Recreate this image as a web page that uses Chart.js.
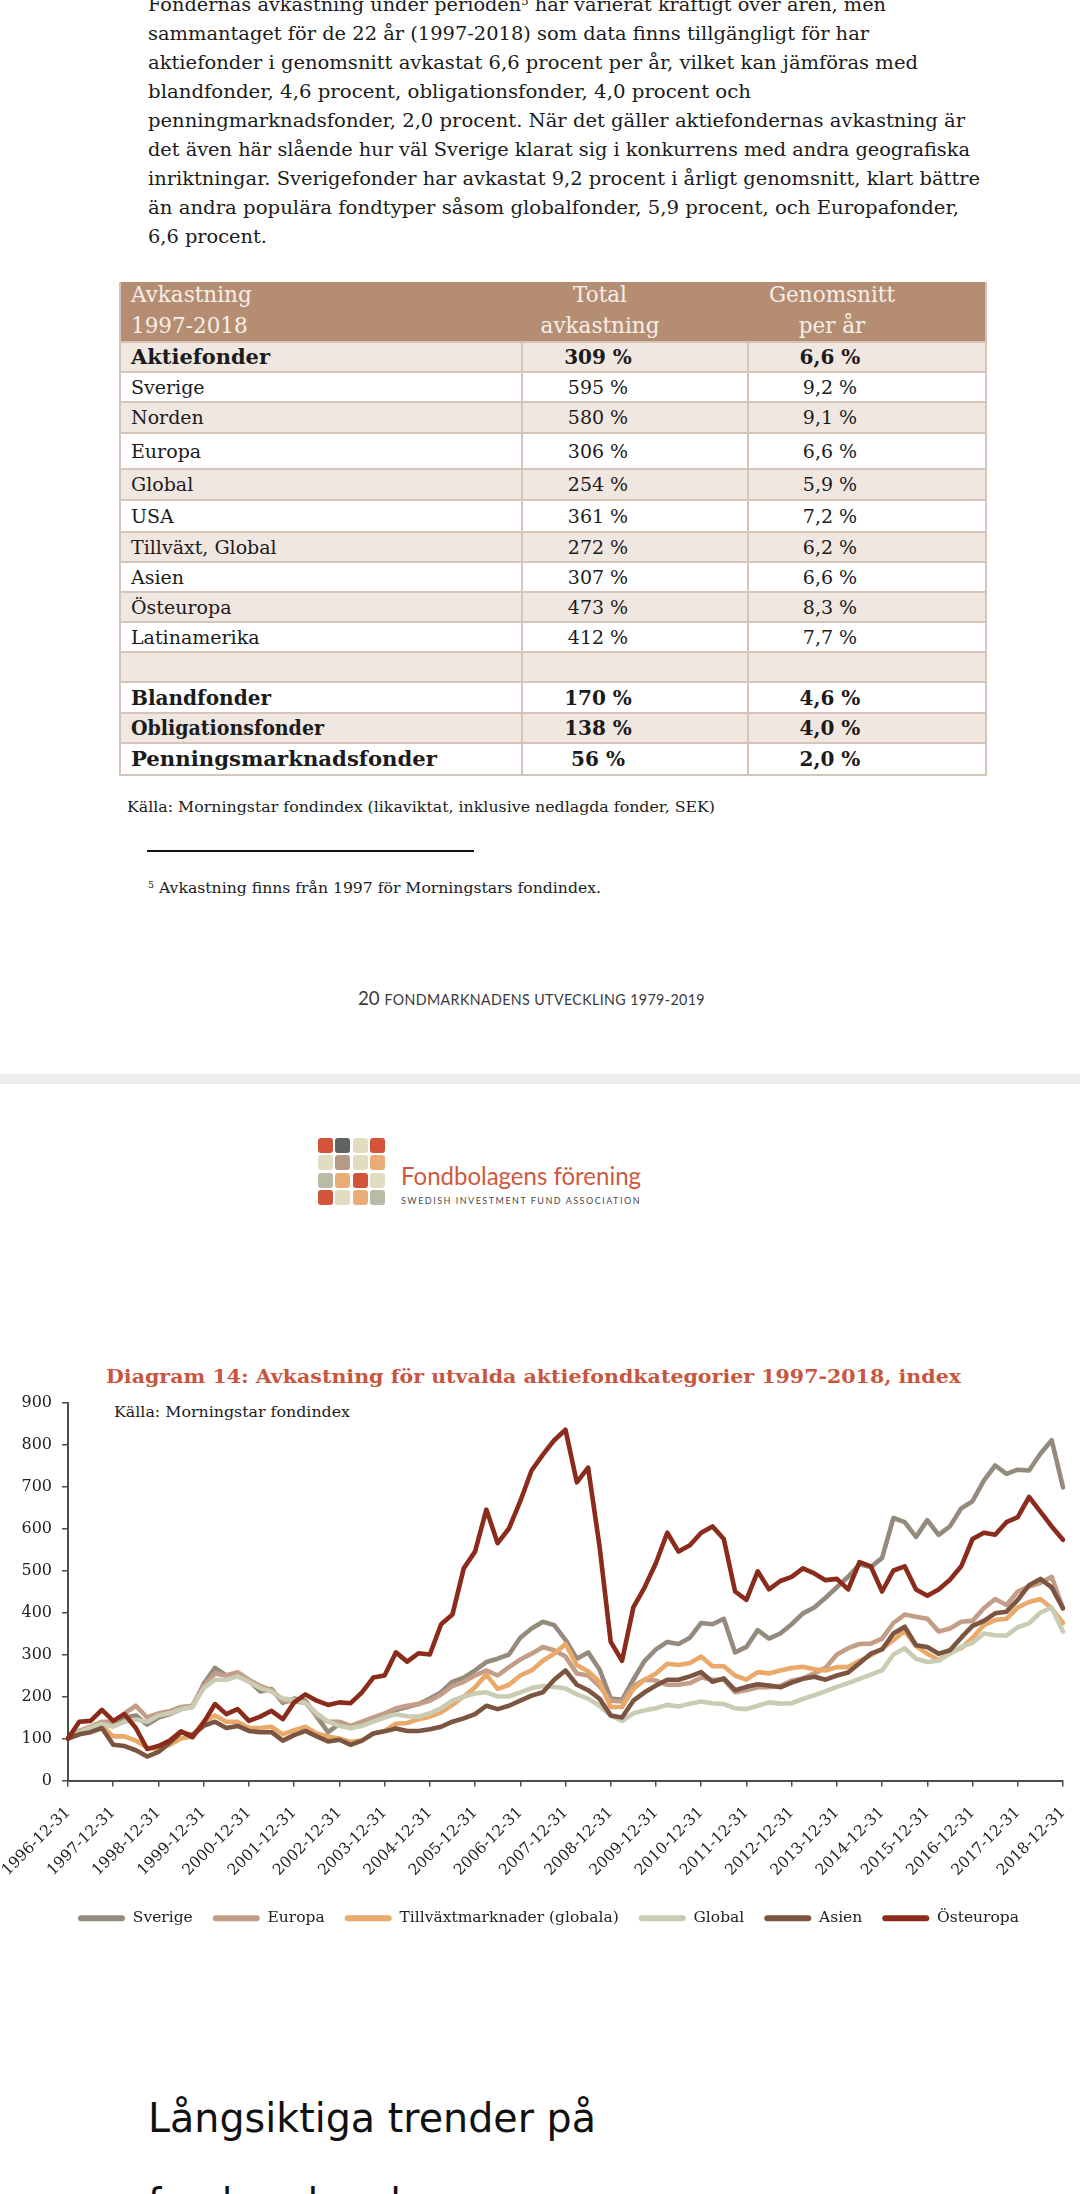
<!DOCTYPE html>
<html>
<head>
<meta charset="utf-8">
<script src="https://cdn.jsdelivr.net/npm/chart.js@4.4.1/dist/chart.umd.min.js"></script>
<style>
html, body { margin: 0; padding: 0; background: #fff; }
body { width: 1080px; height: 2194px; position: relative; overflow: hidden; font-family: "DejaVu Serif", serif; color: #1b1b1b; }
.t { position: absolute; white-space: nowrap; line-height: 1; display: inline-block; transform-origin: 0 50%; }
sup { font-size: 60%; vertical-align: 0.55em; line-height: 0; }
.cell { position: absolute; }
#chartBox { position: absolute; left: 0; top: 1392px; width: 1080px; height: 544px; }
.sq { position: absolute; width: 15px; height: 15px; border-radius: 3px; }
</style>
</head>
<body>

<div id="page"></div>
<div id="logo"></div>
<div id="chartBox"><canvas id="chart" width="1080" height="544"></canvas></div>

<script>
// ---- chart data (index, 1996-12-31 = 100) ----
const years = ['1997','1998','1999','2000','2001','2002','2003','2004','2005','2006','2007',
               '2008','2009','2010','2011','2012','2013','2014','2015','2016','2017','2018'];
const quarterEnds = ['03-31', '06-30', '09-30', '12-31'];

const sverige = [100,118,125,135,130,150,155,133,150,158,170,175,230,268,250,255,238,212,218,185,
  195,190,152,115,135,125,135,148,158,168,175,182,195,210,235,245,262,282,290,300,
  340,362,378,370,335,290,305,265,195,192,240,285,312,330,325,340,375,372,385,305,
  318,358,338,350,372,398,412,435,460,485,515,508,530,625,615,580,620,585,605,648,
  665,714,750,730,740,738,778,810,698];
const europa = [100,118,128,140,140,160,178,150,160,165,175,178,225,255,250,258,240,225,215,190,
  188,185,155,140,140,130,140,150,160,172,178,182,190,205,225,235,250,262,250,270,
  288,302,318,310,295,255,250,225,190,188,225,240,238,228,228,232,245,240,240,210,
  215,222,222,225,238,243,255,268,300,315,325,326,338,375,395,390,385,355,362,378,
  380,410,432,418,450,462,470,485,410];
const tillvaxt = [100,110,120,130,105,105,95,78,75,85,100,105,140,155,140,140,125,125,128,110,
  120,128,112,105,100,92,95,112,118,135,137,146,152,162,180,200,222,252,218,228,
  250,262,285,302,325,275,260,235,175,175,218,240,255,278,275,280,295,272,272,250,
  240,258,255,262,268,271,265,262,270,270,285,298,314,334,356,320,302,287,305,315,
  340,370,382,385,412,425,432,410,375];
const global = [100,115,125,135,128,140,145,140,155,160,170,175,220,240,240,248,235,220,212,195,
  192,185,160,140,130,125,130,140,150,158,153,152,160,172,190,200,207,210,200,200,
  210,220,225,223,219,205,195,178,155,142,160,167,172,180,176,183,188,184,182,172,
  170,178,186,183,184,194,203,213,223,232,242,252,262,300,315,290,282,285,302,318,
  328,350,346,345,365,374,400,412,355];
const asien = [100,110,115,125,85,82,72,57,68,90,115,108,130,140,125,130,118,115,115,95,
  108,118,105,93,97,85,95,112,117,124,118,118,122,128,140,148,158,178,170,178,
  190,202,210,240,262,228,215,195,155,150,190,210,226,240,240,248,258,235,243,215,
  223,229,226,222,233,242,247,240,250,257,279,302,312,350,366,322,318,302,310,340,
  368,380,398,402,430,465,480,460,410];
const osteuropa = [100,140,142,168,142,158,125,75,82,95,117,103,138,182,158,170,142,152,166,146,
  186,205,190,180,186,184,210,245,250,305,283,303,300,372,395,505,545,645,565,600,
  665,738,776,810,835,710,745,560,330,285,412,460,518,590,545,560,590,605,575,450,
  430,498,455,475,485,505,493,477,480,455,520,510,450,500,510,455,440,455,478,510,
  575,590,585,615,627,675,640,605,573];

const seriesNames = ['Sverige', 'Europa', 'Tillväxtmarknader (globala)', 'Global', 'Asien', 'Östeuropa'];
const seriesColors = ['#958b7d', '#c39d88', '#eaa969', '#cacbb3', '#7b5541', '#8a2b1b'];
const yTicks = [0, 100, 200, 300, 400, 500, 600, 700, 800, 900];

// ---- table data ----
const tableHead = [['Avkastning', '1997-2018'], ['Total', 'avkastning'], ['Genomsnitt', 'per år']];
const tableNames = ['Aktiefonder', 'Sverige', 'Norden', 'Europa', 'Global', 'USA', 'Tillväxt, Global',
  'Asien', 'Östeuropa', 'Latinamerika', '', 'Blandfonder', 'Obligationsfonder', 'Penningsmarknadsfonder'];
const tableTotal = ['309 %', '595 %', '580 %', '306 %', '254 %', '361 %', '272 %', '307 %', '473 %', '412 %', '', '170 %', '138 %', '56 %'];
const tableAvg = ['6,6 %', '9,2 %', '9,1 %', '6,6 %', '5,9 %', '7,2 %', '6,2 %', '6,6 %', '8,3 %', '7,7 %', '', '4,6 %', '4,0 %', '2,0 %'];
const tableBold = [true, false, false, false, false, false, false, false, false, false, false, true, true, true];

const bodyLines = [
  'Fondernas avkastning under perioden<sup>5</sup> har varierat kraftigt över åren, men',
  'sammantaget för de 22 år (1997-2018) som data finns tillgängligt för har',
  'aktiefonder i genomsnitt avkastat 6,6 procent per år, vilket kan jämföras med',
  'blandfonder, 4,6 procent, obligationsfonder, 4,0 procent och',
  'penningmarknadsfonder, 2,0 procent. När det gäller aktiefondernas avkastning är',
  'det även här slående hur väl Sverige klarat sig i konkurrens med andra geografiska',
  'inriktningar. Sverigefonder har avkastat 9,2 procent i årligt genomsnitt, klart bättre',
  'än andra populära fondtyper såsom globalfonder, 5,9 procent, och Europafonder,',
  '6,6 procent.'
];
const bodyWidths = [738, 721, 770, 603, 817, 822, 832, 811, 119];

const page = document.getElementById('page');

// place a one-line text by its baseline; optional target width
function addText(html, x, baseline, size, opts) {
  opts = opts || {};
  const el = document.createElement('div');
  el.className = 't';
  el.innerHTML = html;
  const fam = opts.family || '"DejaVu Serif", serif';
  const k = opts.k || 0.846;
  el.style.fontFamily = fam;
  el.style.fontSize = size + 'px';
  el.style.top = (baseline - k * size) + 'px';
  el.style.left = x + 'px';
  if (opts.bold) el.style.fontWeight = 'bold';
  if (opts.color) el.style.color = opts.color;
  if (opts.spacing) el.style.letterSpacing = opts.spacing + 'px';
  page.appendChild(el);
  if (opts.center !== undefined) {
    const w = el.getBoundingClientRect().width;
    el.style.left = (opts.center - w / 2) + 'px';
  }
  if (opts.width) {
    const w = el.getBoundingClientRect().width;
    el.style.transform = 'scaleX(' + (opts.width / w) + ')';
  }
  return el;
}

function addBox(x, y, w, h, color) {
  const d = document.createElement('div');
  d.className = 'cell';
  d.style.left = x + 'px';
  d.style.top = y + 'px';
  d.style.width = w + 'px';
  d.style.height = h + 'px';
  d.style.background = color;
  page.appendChild(d);
  return d;
}

function buildPage() {
  // body text
  bodyLines.forEach((line, i) => {
    addText(line, 147.5, 11 + i * 29, 19, { width: bodyWidths[i] });
  });

  // table
  const rowEdges = [342, 372, 402, 433, 469, 500, 532, 562, 592, 622, 652, 682, 713, 743, 775];
  const boldWidths = { 0: 139, 11: 140, 12: 193, 13: 306 };
  addBox(120, 282, 866, 60, '#b58d73');
  for (let i = 0; i < tableNames.length; i++) {
    const y0 = rowEdges[i], y1 = rowEdges[i + 1];
    addBox(120, y0, 866, y1 - y0, i % 2 === 0 ? '#f0e7e1' : '#ffffff');
    const base = (y0 + y1) / 2 + 7;
    const size = tableBold[i] ? 20 : 19;
    const o = { bold: tableBold[i] };
    if (tableNames[i]) addText(tableNames[i], 131, base, size, Object.assign({ width: boldWidths[i] }, o));
    if (tableTotal[i]) addText(tableTotal[i], 0, base, size, Object.assign({ center: 598 }, o));
    if (tableAvg[i]) addText(tableAvg[i], 0, base, size, Object.assign({ center: 830 }, o));
  }
  // grid lines
  const line = '#d6c4b8';
  rowEdges.forEach(y => addBox(120, y - 1, 866, 2, line));
  addBox(120, 774, 866, 2, line);
  [522, 748].forEach(x => addBox(x - 1, 342, 2, 433, line));
  addBox(119, 282, 2, 494, line);
  addBox(985, 282, 2, 494, line);

  // header text
  const hc = '#f6efe8';
  const hs = 21.5;
  addText(tableHead[0][0], 131, 302, hs, { color: hc });
  addText(tableHead[0][1], 131, 333, hs, { color: hc });
  addText(tableHead[1][0], 0, 302, hs, { color: hc, center: 600 });
  addText(tableHead[1][1], 0, 333, hs, { color: hc, center: 600 });
  addText(tableHead[2][0], 0, 302, hs, { color: hc, center: 832 });
  addText(tableHead[2][1], 0, 333, hs, { color: hc, center: 832 });

  addText('Källa: Morningstar fondindex (likaviktat, inklusive nedlagda fonder, SEK)', 127, 813, 15, { width: 588 });
  addBox(147, 850, 327, 2, '#111');
  addText('<sup>5</sup> Avkastning finns från 1997 för Morningstars fondindex.', 148, 893.5, 15, { width: 453 });

  const lato = 'Lato, "Open Sans", sans-serif';
  addText('20 <span style="font-size:14.5px;letter-spacing:0.4px">FONDMARKNADENS UTVECKLING 1979-2019</span>',
    358, 1005, 19, { family: lato, k: 0.887, color: '#3a3a3a', width: 347 });

  // page break band
  addBox(0, 1074, 1080, 10, '#ececec');

  // logo
  const sqColors = [
    ['#d3543b', '#5e6560', '#e2dcc1', '#d3543b'],
    ['#e2dcc1', '#b69a8a', '#e2dcc1', '#eaad79'],
    ['#b9bba6', '#eaad79', '#d3543b', '#e2dcc1'],
    ['#d3543b', '#e2dcc1', '#eaad79', '#b9bba6']
  ];
  const logo = document.getElementById('logo');
  sqColors.forEach((row, r) => row.forEach((c, j) => {
    const s = document.createElement('div');
    s.className = 'sq';
    s.style.left = (318 + j * 17.4) + 'px';
    s.style.top = (1138 + r * 17.4) + 'px';
    s.style.background = c;
    logo.appendChild(s);
  }));
  addText('Fondbolagens förening', 401, 1186, 25.5, { family: lato, k: 0.887, color: '#d0573d', width: 240 });
  addText('SWEDISH INVESTMENT FUND ASSOCIATION', 401, 1203.5, 9, { family: lato, k: 0.887, color: '#4a4a4a', spacing: 1.5, width: 240 });

  // chart title and source note
  addText('Diagram 14: Avkastning för utvalda aktiefondkategorier 1997-2018, index', 106, 1383, 18,
    { bold: true, color: '#c8553d', width: 855 });
  addText('Källa: Morningstar fondindex', 114, 1418, 15.5, { width: 236 });

  // heading below
  const sans = '"DejaVu Sans", sans-serif';
  addText('Långsiktiga trender på', 147.5, 2133, 41, { family: sans, color: '#111', width: 448 });
  addText('fondmarknaden', 147.5, 2218, 41, { family: sans, color: '#111', width: 300 });
}

// moves the legend sideways so it sits where the original one does
const legendShift = {
  id: 'legendShift',
  afterLayout(chart) {
    if (chart.legend) {
      chart.legend.left += 17;
      chart.legend.right += 17;
    }
  }
};

function buildChart() {
  const labels = ['1996-12-31'];
  years.forEach(y => quarterEnds.forEach(q => labels.push(y + '-' + q)));

  const values = [sverige, europa, tillvaxt, global, asien, osteuropa];
  const datasets = values.map((data, i) => ({
    label: seriesNames[i],
    data: data,
    borderColor: seriesColors[i],
    backgroundColor: seriesColors[i],
    borderWidth: 4.6,
    pointRadius: 0,
    tension: 0,
    borderJoinStyle: 'round',
    borderCapStyle: 'round',
    order: values.length - i
  }));

  const axisColor = '#4d4d4d';
  const tickFont = { family: 'DejaVu Serif', size: 15.5 };

  new Chart(document.getElementById('chart').getContext('2d'), {
    type: 'line',
    data: { labels: labels, datasets: datasets },
    plugins: [legendShift],
    options: {
      responsive: false,
      animation: false,
      devicePixelRatio: 1,
      layout: { padding: { left: 0, right: 17, top: 0, bottom: 0 } },
      plugins: {
        tooltip: { enabled: false },
        legend: {
          position: 'bottom',
          labels: {
            boxWidth: 47,
            boxHeight: 6,
            padding: 20,
            color: '#222',
            font: { family: 'DejaVu Serif', size: 15.5 },
            useBorderRadius: true,
            borderRadius: 3,
            sort: (a, b) => a.datasetIndex - b.datasetIndex,
            generateLabels: function(chart) {
              return Chart.defaults.plugins.legend.labels.generateLabels(chart).map(l => {
                l.lineWidth = 0;
                l.fillStyle = l.strokeStyle;
                return l;
              });
            }
          }
        }
      },
      scales: {
        x: {
          type: 'category',
          offset: false,
          grid: { display: true, drawOnChartArea: false, drawTicks: true, tickLength: 6, color: axisColor, lineWidth: 1.5 },
          border: { display: true, color: axisColor, width: 2 },
          ticks: {
            autoSkip: false,
            minRotation: 45,
            maxRotation: 45,
            padding: 17,
            color: '#222',
            font: tickFont,
            callback: function(value, index) {
              return index % 4 === 0 ? this.getLabelForValue(value) : null;
            }
          },
          afterFit: function(scale) {
            scale.height = 110;
            scale.paddingLeft = 0;
            scale.paddingRight = 0;
          }
        },
        y: {
          min: 0,
          max: 900,
          afterBuildTicks: function(scale) { scale.ticks = yTicks.map(v => ({ value: v })); },
          grid: { display: true, drawOnChartArea: false, drawTicks: true, tickLength: 6, color: axisColor, lineWidth: 1.5 },
          border: { display: true, color: axisColor, width: 2 },
          ticks: { padding: 10, color: '#222', font: { family: 'DejaVu Serif', size: 16 } },
          afterFit: function(scale) {
            scale.width = 68;
            scale.paddingTop = 10.5;
            scale.paddingBottom = 0;
          }
        }
      }
    }
  });
}

buildPage();
buildChart();
</script>
</body>
</html>
